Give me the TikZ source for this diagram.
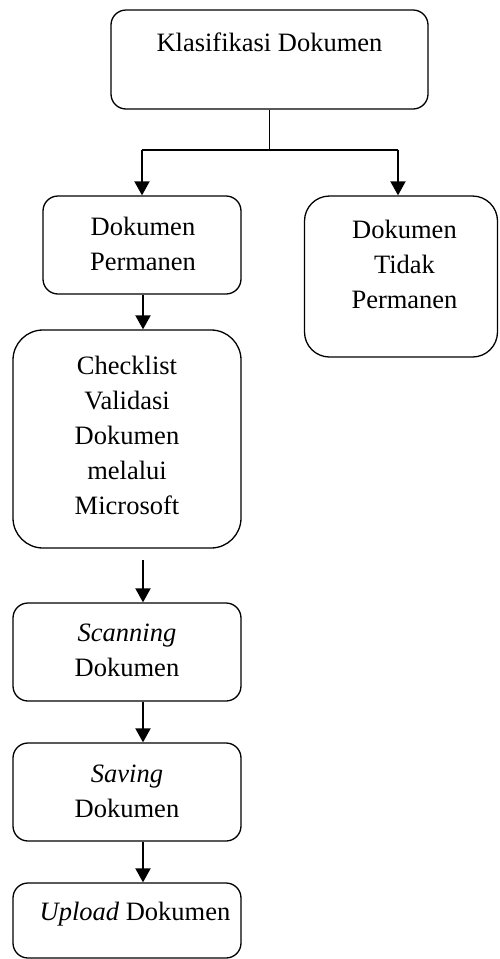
\documentclass[tikz,border=0pt]{standalone}
\usepackage{fontspec}
\setmainfont{Liberation Serif}
\usetikzlibrary{arrows.meta}
\begin{document}
\begin{tikzpicture}[x=1pt,y=-1pt,
  box/.style={draw=black, line width=1.3pt, inner sep=0pt},
  txt/.style={font=\fontsize{26.5}{35}\selectfont, inner sep=0pt, align=center},
  link/.style={line width=1.9pt, -{Triangle[width=15pt,length=14pt]}},
  plain/.style={line width=1.3pt}]
\useasboundingbox (0,0) rectangle (499,959);
% boxes
\node[box, rounded corners=15pt, minimum width=317pt, minimum height=99pt] (top) at (269.5,59.5) {};
\node[box, rounded corners=15pt, minimum width=198pt, minimum height=98pt] (perm) at (142,245) {};
\node[box, rounded corners=25pt, minimum width=193pt, minimum height=161pt] (tidak) at (401,276.5) {};
\node[box, rounded corners=30pt, minimum width=228pt, minimum height=218pt] (check) at (127,439) {};
\node[box, rounded corners=15pt, minimum width=228pt, minimum height=98pt] (scan) at (127,652) {};
\node[box, rounded corners=15pt, minimum width=228pt, minimum height=98pt] (save) at (127,792) {};
\node[box, rounded corners=15pt, minimum width=228pt, minimum height=75pt] (upl) at (127,920.5) {};
% texts
\node[txt, anchor=base] (ttop) at (269.5,51) {Klasifikasi Dokumen};
\node[txt] (tperm) at (143,243.6) {Dokumen\\Permanen};
\node[txt] (ttidak) at (404.5,264.2) {Dokumen\\Tidak\\Permanen};
\node[txt] (tcheck) at (127,435.2) {Checklist\\Validasi\\Dokumen\\melalui\\Microsoft};
\node[txt] (tscan) at (127,650.7) {\textit{Scanning}\\Dokumen};
\node[txt] (tsave) at (127,791.7) {\textit{Saving}\\Dokumen};
\node[txt, anchor=base] (tupl) at (135,920) {\textit{Upload} Dokumen};
% connectors
\coordinate (j) at (269.5,150);
\coordinate (jl) at (142,150);
\coordinate (jr) at (398,150);
\coordinate (c1) at (143,560);
\draw[plain] (top.south) -- (j);
\draw[plain] (jl) -- (jr);
\draw[link] (jl) -- (perm.north);
\draw[link] (jr) -- (jr |- tidak.north);
\draw[link] (perm.south -| c1) -- (c1 |- check.north);
\draw[link] (c1) -- (c1 |- scan.north);
\draw[link] (c1 |- scan.south) -- (c1 |- save.north);
\draw[link] (c1 |- save.south) -- (c1 |- upl.north);
\end{tikzpicture}
\end{document}
